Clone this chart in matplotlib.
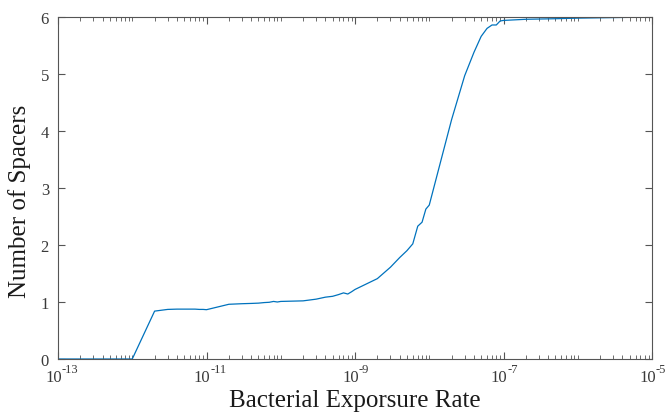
import matplotlib
matplotlib.use("Agg")
import matplotlib.pyplot as plt
from matplotlib.ticker import FixedLocator, NullFormatter

plt.rcParams['font.family'] = ['Liberation Serif', 'DejaVu Serif']

exposure_rate = [1e-13, 2e-13, 3e-13, 4e-13, 5e-13, 6e-13, 7e-13, 8e-13, 9e-13,
                 1e-12, 2e-12, 3e-12, 4e-12, 5e-12, 6e-12, 7e-12, 8e-12, 9e-12,
                 1e-11, 2e-11, 3e-11, 4e-11, 5e-11, 6e-11, 7e-11, 8e-11, 9e-11,
                 1e-10, 2e-10, 3e-10, 4e-10, 5e-10, 6e-10, 7e-10, 8e-10, 9e-10,
                 1e-9, 2e-9, 3e-9, 4e-9, 5e-9, 6e-9, 7e-9, 8e-9, 9e-9,
                 1e-8, 2e-8, 3e-8, 4e-8, 5e-8, 6e-8, 7e-8, 8e-8, 9e-8,
                 1e-7, 2e-7, 5e-7, 1e-6, 1e-5]
num_spacers = [0, 0, 0, 0, 0, 0, 0, 0, 0,
               0, 0.84, 0.87, 0.875, 0.875, 0.875, 0.875, 0.87, 0.87,
               0.865, 0.96, 0.97, 0.975, 0.98, 0.99, 0.995, 1.01, 1.0,
               1.01, 1.02, 1.05, 1.085, 1.10, 1.13, 1.16, 1.14, 1.18,
               1.22, 1.41, 1.61, 1.78, 1.90, 2.02, 2.33, 2.40, 2.63,
               2.70, 4.20, 4.97, 5.38, 5.66, 5.80, 5.86, 5.86, 5.93,
               5.94, 5.96, 5.97, 5.98, 6.0]

major_exps = [-13, -11, -9, -7, -5]
y_ticks = [0, 1, 2, 3, 4, 5, 6]

fig = plt.figure(figsize=(6.7, 4.14), dpi=100)
ax = fig.add_axes([58/670, 54/414, 594/670, 342/414])
ax.plot(exposure_rate, num_spacers, color='#0072BD', lw=0.9)
ax.set_xscale('log')
ax.set_xlim(1e-13, 1e-5)
ax.set_ylim(0, 6)

ax.xaxis.set_major_locator(FixedLocator([10.0**e for e in major_exps]))
ax.xaxis.set_major_formatter(NullFormatter())
minor = []
for e in range(-13, -5):
    for m in range(1, 10):
        v = m * 10.0**e
        if not (m == 1 and e in major_exps):
            minor.append(v)
ax.xaxis.set_minor_locator(FixedLocator(minor))
ax.xaxis.set_minor_formatter(NullFormatter())
ax.set_yticks(y_ticks)
ax.set_yticklabels([str(v) for v in y_ticks])

tc = '#3a3a3a'
for s in ax.spines.values():
    s.set_color('#555555')
    s.set_linewidth(0.8)
ax.tick_params(which='both', direction='in', top=True, right=True, colors='#555555',
               labelcolor=tc, labelsize=12)
ax.tick_params(which='major', length=5, width=0.8)
ax.tick_params(axis='y', which='major', pad=6.5)
ax.tick_params(which='minor', length=3, width=0.6)

# x tick labels as "10" with a superscript exponent
for e in major_exps:
    ax.annotate('10', xy=(10.0**e, 0), xycoords=('data', 'axes fraction'),
                xytext=(4, -22), textcoords='offset pixels',
                ha='right', va='baseline', fontsize=12, color=tc,
                annotation_clip=False)
    ax.annotate('-%d' % abs(e), xy=(10.0**e, 0), xycoords=('data', 'axes fraction'),
                xytext=(4, -13), textcoords='offset pixels',
                ha='left', va='baseline', fontsize=9, color=tc,
                annotation_clip=False)

ax.set_xlabel('Bacterial Exporsure Rate', fontsize=18, color='#1a1a1a', labelpad=18)
ax.set_ylabel('Number of Spacers', fontsize=18, color='#1a1a1a')
ax.yaxis.set_label_coords(-0.045, 0.465)

fig.savefig('out.png', dpi=100)
